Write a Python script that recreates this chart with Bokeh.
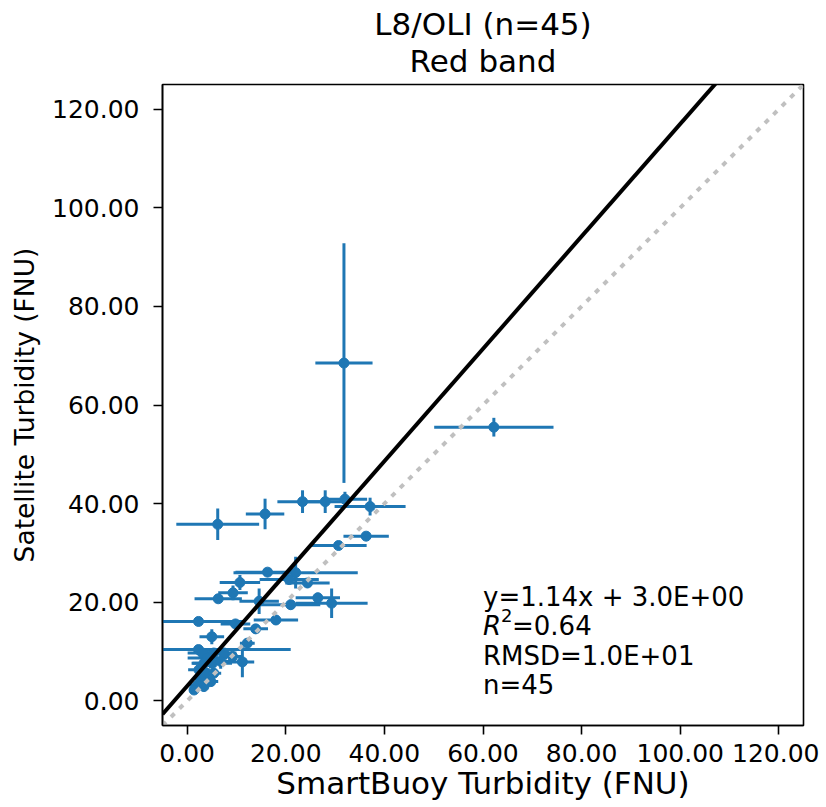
import numpy as np
from bokeh.plotting import figure
from bokeh.models import ColumnDataSource, Label, Title, NumeralTickFormatter, FixedTicker, Range1d
from bokeh.embed import file_html
from bokeh.resources import INLINE

# SmartBuoy (in situ) turbidity, FNU, with its error (std)
smartbuoy = [31.8, 62.2, 6.2, 15.8, 23.4, 28.0, 32.0, 37.1, 36.3, 30.7,
             16.3, 22.0, 10.7, 24.4, 20.7, 9.3, 6.3, 14.6, 21.0, 26.5,
             29.3, 2.3, 9.8, 18.0, 13.9, 5.0, 12.2, 2.3, 11.2, 3.1,
             4.1, 5.4, 3.4, 5.1, 2.4, 3.8, 5.4, 2.7, 4.8, 2.1,
             1.4, 3.4, 7.5, 9.2, 6.8]
smartbuoy_err = [5.8, 12.1, 8.4, 3.9, 5.1, 4.0, 4.5, 7.2, 4.6, 5.7,
                 6.5, 12.6, 4.1, 4.5, 6.0, 3.0, 4.8, 4.0, 6.0, 4.5,
                 7.3, 9.2, 3.0, 4.5, 2.5, 2.5, 1.5, 18.7, 2.4, 3.0,
                 4.0, 2.0, 2.5, 4.0, 2.2, 1.5, 1.5, 1.5, 1.5, 1.7,
                 1.0, 1.0, 2.5, 2.0, 3.0]
# Satellite turbidity, FNU, with its error (std)
satellite = [68.5, 55.5, 35.8, 37.9, 40.4, 40.4, 40.9, 39.4, 33.4, 31.5,
             26.1, 26.0, 24.0, 23.9, 24.6, 21.9, 20.7, 20.2, 19.5, 20.9,
             19.8, 16.1, 15.6, 16.4, 14.6, 13.0, 11.7, 10.4, 7.9, 9.7,
             8.7, 9.7, 7.6, 7.6, 6.3, 5.6, 5.6, 4.6, 3.9, 3.2,
             2.2, 2.9, 9.7, 9.0, 8.0]
satellite_err = [24.3, 1.9, 3.2, 3.1, 2.3, 2.3, 1.5, 1.8, 0.8, 0.8,
                 0.8, 3.2, 1.5, 1.0, 1.0, 1.5, 0.8, 2.6, 1.0, 1.0,
                 3.0, 0.8, 0.8, 1.0, 1.0, 1.5, 1.0, 0.8, 3.1, 1.0,
                 1.5, 1.0, 1.5, 1.0, 1.0, 1.5, 1.0, 1.0, 1.0, 0.8,
                 0.8, 1.0, 1.0, 1.0, 1.5]

axis_min, axis_max = -5.0, 125.0
tick_values = [0, 20, 40, 60, 80, 100, 120]
slope, intercept = 1.14, 3.0
title_lines = ["L8/OLI (n=45)", "Red band"]
stats_lines = ["y=1.14x + 3.0E+00", "=0.64", "RMSD=1.0E+01", "n=45"]

FONT = "DejaVu Sans"
BLUE = "#1f77b4"

x = np.array(smartbuoy)
y = np.array(satellite)
xe = np.array(smartbuoy_err)
ye = np.array(satellite_err)

src = ColumnDataSource(dict(
    x=x, y=y,
    x0=x - xe, x1=x + xe,
    y0=y - ye, y1=y + ye,
))

p = figure(frame_width=641, frame_height=641,
           min_border_left=162, min_border_right=16,
           min_border_top=84, min_border_bottom=80,
           x_range=Range1d(axis_min, axis_max), y_range=Range1d(axis_min, axis_max),
           output_backend="svg", toolbar_location=None, tools="")

p.add_layout(Title(text=title_lines[1], align="center", text_font=FONT,
                   text_font_size="31px", text_font_style="normal",
                   text_color="black", standoff=11), "above")
p.add_layout(Title(text=title_lines[0], align="center", text_font=FONT,
                   text_font_size="31px", text_font_style="normal",
                   text_color="black", standoff=-12), "above")

# error bars
p.segment(x0="x0", y0="y", x1="x1", y1="y", source=src, line_color=BLUE, line_width=3)
p.segment(x0="x", y0="y0", x1="x", y1="y1", source=src, line_color=BLUE, line_width=3)
p.scatter(x="x", y="y", source=src, size=10, fill_color=BLUE, line_color=BLUE)

# 1:1 line and regression line
lx = np.array([axis_min, axis_max])
p.line(lx, lx, line_color="#c0c0c0", line_width=4, line_dash="5 7")
p.line(lx, slope * lx + intercept, line_color="black", line_width=4)

# stats text
tx = 60
ys = [21.0, 15.1, 9.15, 3.2]
for i, t in enumerate(stats_lines):
    if i == 1:
        p.add_layout(Label(x=tx, y=ys[i], text="R", text_font=FONT, text_font_size="26px",
                           text_font_style="italic", text_baseline="alphabetic", text_color="black"))
        p.add_layout(Label(x=tx, y=ys[i], x_offset=18, y_offset=11, text="2", text_font=FONT,
                           text_font_size="18px", text_baseline="alphabetic", text_color="black"))
        p.add_layout(Label(x=tx, y=ys[i], x_offset=29, text=t, text_font=FONT, text_font_size="26px",
                           text_baseline="alphabetic", text_color="black"))
    else:
        p.add_layout(Label(x=tx, y=ys[i], text=t, text_font=FONT, text_font_size="26px",
                           text_baseline="alphabetic", text_color="black"))

for ax in (p.xaxis[0], p.yaxis[0]):
    ax.ticker = FixedTicker(ticks=tick_values)
    ax.formatter = NumeralTickFormatter(format="0.00")
    ax.major_label_text_font = FONT
    ax.major_label_text_font_size = "25px"
    ax.major_label_text_color = "black"
    ax.axis_label_text_font = FONT
    ax.axis_label_text_font_style = "normal"
    ax.axis_label_text_color = "black"
    ax.axis_line_color = "black"
    ax.axis_line_width = 1.6
    ax.major_tick_line_color = "black"
    ax.major_tick_line_width = 1.6
    ax.major_tick_in = 0
    ax.major_tick_out = 9
    ax.minor_tick_line_color = None

p.xaxis.axis_label = "SmartBuoy Turbidity (FNU)"
p.yaxis.axis_label = "Satellite Turbidity (FNU)"
p.xaxis.axis_label_text_font_size = "31px"
p.yaxis.axis_label_text_font_size = "26.5px"
p.xaxis.major_label_standoff = 9
p.yaxis.major_label_standoff = 14
p.xaxis.axis_label_standoff = 0
p.yaxis.axis_label_standoff = 9

p.xgrid.grid_line_color = None
p.ygrid.grid_line_color = None
p.outline_line_color = "black"
p.outline_line_width = 1.6
p.outline_line_alpha = 1.0
p.background_fill_color = "white"
p.border_fill_color = "white"

open("out.html", "w").write(file_html(p, INLINE))
